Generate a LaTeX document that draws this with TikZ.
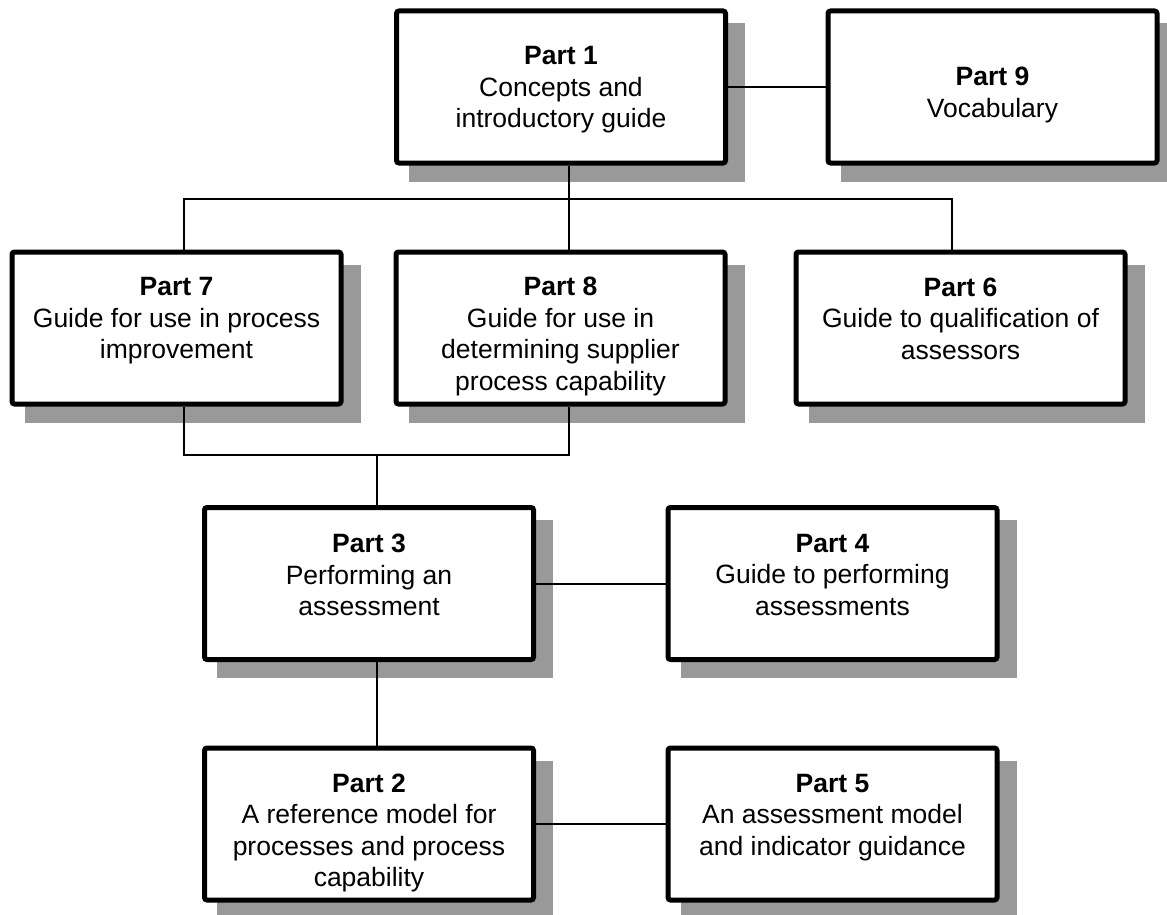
\documentclass[tikz,border=0pt]{standalone}
\usepackage{fontspec}
\setmainfont{Liberation Sans}
\definecolor{shadowgray}{RGB}{153,153,153}
\pgfdeclarelayer{bg}
\pgfsetlayers{bg,main}
\begin{document}
\begin{tikzpicture}[x=1pt,y=-1pt,
  box/.style={draw=black, line width=5pt, fill=white, rounded corners=2.5pt,
              minimum width=329pt, minimum height=152pt, inner sep=0pt},
  txt/.style={align=center, inner sep=0pt, font=\fontsize{26.5}{31.5}\selectfont},
  conn/.style={line width=2pt},
  shade/.style={fill=shadowgray}]
\useasboundingbox (0,0) rectangle (1167,915);

% boxes
\node[box] (p1) at (561,87) {};
\node[box] (p9) at (992.5,87) {};
\node[box] (p7) at (176.5,328) {};
\node[box] (p8) at (560.5,328) {};
\node[box] (p6) at (960.5,328) {};
\node[box] (p3) at (369,583.5) {};
\node[box] (p4) at (832.5,583.5) {};
\node[box] (p2) at (369,824) {};
\node[box] (p5) at (832.5,824) {};

% shadows
\begin{pgfonlayer}{bg}
\foreach \n in {p1,p9,p7,p8,p6,p3,p4,p2,p5}
  \fill[shade] ([shift={(15,15)}]\n.north west) rectangle ([shift={(17,16)}]\n.south east);
\end{pgfonlayer}

% texts
\node[txt] (t1) at (561,90) {\textbf{Part 1}\\Concepts and\\introductory guide};
\node[txt] (t9) at (992.5,95) {\textbf{Part 9}\\Vocabulary};
\node[txt] (t7) at (176.5,321) {\textbf{Part 7}\\Guide for use in process\\improvement};
\node[txt] (t8) at (560.5,336.5) {\textbf{Part 8}\\Guide for use in\\determining supplier\\process capability};
\node[txt] (t6) at (960.5,318.5) {\textbf{Part 6}\\Guide to qualification of\\assessors};
\node[txt] (t3) at (369,575) {\textbf{Part 3}\\Performing an\\assessment};
\node[txt] (t4) at (832.5,575) {\textbf{Part 4}\\Guide to performing\\assessments};
\node[txt] (t2) at (369,833) {\textbf{Part 2}\\A reference model for\\processes and process\\capability};
\node[txt] (t5) at (832.5,817.5) {\textbf{Part 5}\\An assessment model\\and indicator guidance};

% connector anchor points
\coordinate (c1b) at ([xshift=8pt]p1.south);
\coordinate (c7t) at ([xshift=7.5pt]p7.north);
\coordinate (c8t) at ([xshift=8.5pt]p8.north);
\coordinate (c6t) at ([xshift=-8.5pt]p6.north);
\coordinate (c7b) at ([xshift=7.5pt]p7.south);
\coordinate (c8b) at ([xshift=8.5pt]p8.south);
\coordinate (c3t) at ([xshift=8pt]p3.north);
\coordinate (c3b) at ([xshift=8pt]p3.south);
\coordinate (c2t) at ([xshift=8pt]p2.north);
\coordinate (bus1) at (569,199);
\coordinate (bus2) at (377,455);

% connectors
\draw[conn] (p1.east) -- (p9.west);
\draw[conn] (c1b) -- (c8t);
\draw[conn] (c7t) |- (bus1) -| (c6t);
\draw[conn] (c7b) |- (bus2) -| (c8b);
\draw[conn] (bus2) -- (c3t);
\draw[conn] (p3.east) -- (p4.west);
\draw[conn] (c3b) -- (c2t);
\draw[conn] (p2.east) -- (p5.west);
\end{tikzpicture}
\end{document}
